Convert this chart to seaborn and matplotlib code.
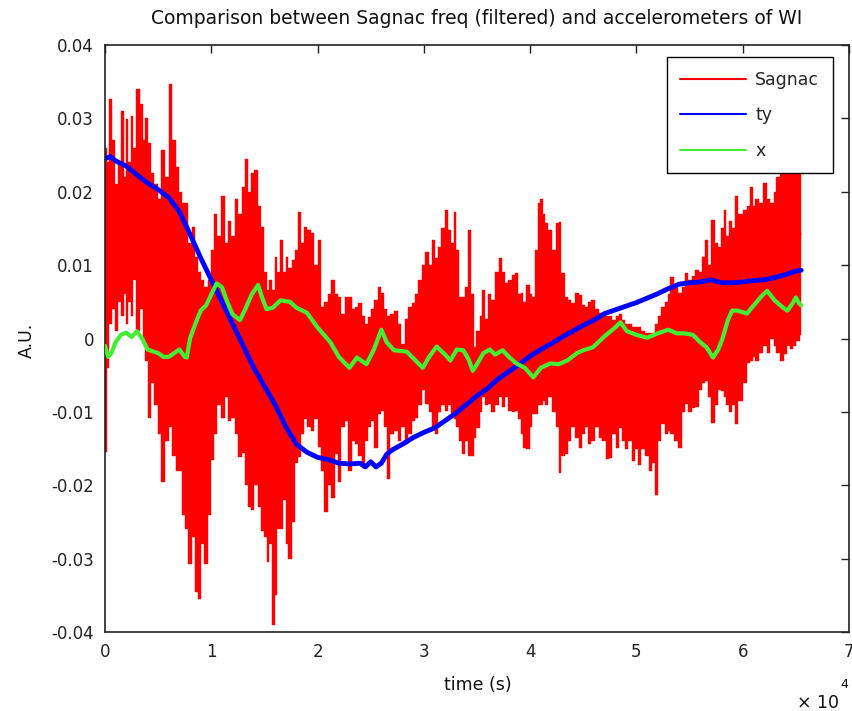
import numpy as np
import pandas as pd
import matplotlib
matplotlib.use("Agg")
import matplotlib.pyplot as plt
import seaborn as sns

# ---------------- data (time in 1e4 s, values in 1e-3 A.U.) ----------------
# Sagnac (filtered) read as max / min envelope of the dense trace
sag_t = [0.00, 0.03, 0.05, 0.08, 0.11, 0.14, 0.16, 0.19, 0.21, 0.23, 0.25, 0.28,
         0.31, 0.34, 0.37, 0.39, 0.42, 0.45, 0.48, 0.51, 0.55, 0.58, 0.62, 0.65,
         0.68, 0.71, 0.74, 0.77, 0.80, 0.83, 0.86, 0.89, 0.92, 0.95, 0.98, 1.01, 1.04, 1.07,
         1.11, 1.14, 1.17, 1.21, 1.24, 1.27, 1.30, 1.33, 1.36, 1.39, 1.42, 1.45,
         1.48, 1.51, 1.53, 1.56, 1.58, 1.61, 1.63, 1.66, 1.69, 1.71, 1.74, 1.77, 1.80, 1.83,
         1.86, 1.89, 1.92, 1.95, 1.98, 2.02, 2.05, 2.08, 2.11, 2.15, 2.18, 2.21,
         2.24, 2.27, 2.30, 2.34, 2.37, 2.40, 2.43, 2.46, 2.48, 2.52, 2.55, 2.58, 2.61,
         2.64, 2.67, 2.70, 2.74, 2.77, 2.80, 2.84, 2.87, 2.90, 2.93, 2.96, 3.00,
         3.03, 3.06, 3.09, 3.12, 3.15, 3.18, 3.21, 3.24, 3.27, 3.29, 3.32, 3.34,
         3.37, 3.40, 3.43, 3.46, 3.48, 3.51, 3.54, 3.56, 3.59, 3.62, 3.65, 3.69, 3.72,
         3.75, 3.78, 3.81, 3.84, 3.87, 3.90, 3.92, 3.95, 3.98, 4.01, 4.03, 4.06,
         4.08, 4.11, 4.13, 4.15, 4.19, 4.22, 4.26, 4.28, 4.31, 4.34, 4.37, 4.40,
         4.44, 4.47, 4.50, 4.53, 4.56, 4.59, 4.63, 4.66, 4.69, 4.73, 4.75, 4.79,
         4.82, 4.85, 4.88, 4.91, 4.94, 4.97, 5.00, 5.03, 5.06, 5.10, 5.13, 5.16,
         5.19, 5.22, 5.25, 5.28, 5.31, 5.33, 5.37, 5.41, 5.44, 5.47, 5.50,
         5.54, 5.57, 5.60, 5.63, 5.66, 5.69, 5.72, 5.75, 5.78, 5.81, 5.83, 5.86, 5.88,
         5.91, 5.94, 5.98, 6.02, 6.06, 6.08, 6.11, 6.13, 6.17, 6.21, 6.24,
         6.28, 6.30, 6.33, 6.37, 6.40, 6.43, 6.46, 6.49, 6.52, 6.55]
sag_hi = [26, 24, 32.6, 27, 21, 24, 31, 22, 29.9, 24, 30.3, 26,
          34, 32, 27, 30, 26.7, 22.6, 21, 19, 25.7, 22, 34.7, 27,
          23.4, 20, 18.5, 18.5, 13, 15.2, 11.1, 9, 8, 7, 8, 12, 17, 14,
          19.4, 13, 16, 14, 19, 17, 20.7, 24.4, 20, 22.6, 23, 18,
          15.2, 9, 6.6, 8, 6.6, 11.1, 9, 13.4, 9, 11.1, 9.6, 10.7, 12, 17.3,
          13, 15.2, 14.8, 14.4, 10, 13.4, 4.3, 5, 6, 8, 6, 5.6,
          3.4, 5.6, 5.6, 4, 4.3, 4.8, 3, 2, 2.9, 4, 5.2, 7, 6.2,
          4, 3, 3.4, 3.8, 2, -0.7, 2.7, 4.3, 4.8, 6, 8, 10,
          11.8, 10, 13.4, 11, 12.5, 15, 17.5, 14.8, 13, 17.3, 12, 5.6,
          5.6, 7, 14.8, 6, -1.2, 1, 3, 6.6, 2.7, 6, 5.2, 9, 11,
          9, 7.5, 8, 8.6, 8.9, 6, 6.2, 5, 7.3, 6, 5.6, 12,
          18.5, 19, 17, 15.7, 14.8, 12, 15.7, 15.9, 8.9, 5.6, 5.2, 4.8,
          6.2, 5.9, 4.5, 4.3, 5, 5.2, 4, 3.5, 3.4, 3, 3, 2.5,
          3, 3.4, 2.5, 2, 2, 1.5, 1.5, 1.5, 1, 0.8, 0.7, 0.7,
          2, 3, 4.3, 5, 6, 8.4, 7, 6.2, 7, 8.9, 8,
          8.5, 9.3, 9, 11.1, 13.4, 10, 16.2, 13, 12.5, 15, 17.5, 14, 16,
          15, 19.4, 17, 17.5, 18, 20.7, 18, 19, 18.5, 21.2, 19,
          18.5, 20, 22, 23, 24, 23, 26, 27, 28, 28]
sag_lo = [-15.5, -4, 2, 4, 1, 5, 3, 6, 2, 5, 3, 8,
          1, 4, 0, -3, -10.8, -6, -9, -13, -19.5, -14, -12, -16,
          -18, -18, -24, -26, -30.8, -27, -34.6, -35.5, -28, -30.8, -24, -16.6, -13, -9,
          -10.8, -8, -11.2, -10.8, -13, -16.2, -15.6, -20, -23, -23.4, -20, -23,
          -26.3, -27, -30.4, -28, -39, -35, -26, -26, -22, -28, -30, -25, -17, -16.2,
          -13, -11, -12, -12.6, -11, -14.8, -18, -23.6, -20, -21.8, -15.8, -19.5,
          -12, -11.2, -18, -14, -14.4, -16, -17.6, -14, -12, -11.2, -14.9, -10.3, -9.9,
          -12, -19.2, -13, -12.6, -14, -12, -14.4, -13, -11.2, -10.8, -9, -7,
          -8.9, -10, -12.2, -13, -10, -9, -9.9, -9, -10.3, -11, -12, -14,
          -15.8, -14, -16, -16, -13.5, -12.2, -10, -8, -9, -8.9, -10, -9, -8,
          -9.4, -8, -9.9, -10, -9.9, -11, -13, -14.9, -15, -12, -10.3, -10.3,
          -9, -9, -8.5, -9, -8, -10, -12, -18.3, -16, -15.8, -14, -12,
          -13.5, -14.9, -13, -12, -14.4, -14, -12, -13.5, -14, -16.4, -16.3, -13,
          -14.9, -12.2, -14, -15, -14, -16.7, -15, -17.2, -15, -16, -18, -17,
          -21.3, -14, -11.7, -13, -12.6, -13, -14, -14.9, -10, -8.9, -10,
          -9.5, -9.4, -7, -6, -5.8, -8, -11.5, -9, -7, -7.1, -8, -9, -10,
          -9, -11.7, -8.5, -6, -3.4, -3, -2.5, -3, -2, -1, -2,
          0, -1, -2, -3, -2.1, -1, -1.4, -1, -0.3, 0.5]

# accelerometer ty
ty_t = [0.00, 0.05, 0.10, 0.20, 0.30, 0.40, 0.50, 0.60, 0.70, 0.80, 0.90, 1.00,
        1.10, 1.20, 1.30, 1.40, 1.50, 1.60, 1.70, 1.80, 1.90, 2.00, 2.10, 2.20,
        2.30, 2.40, 2.45, 2.50, 2.55, 2.60, 2.65, 2.70, 2.80, 2.90, 3.00, 3.10,
        3.20, 3.30, 3.40, 3.50, 3.60, 3.70, 3.80, 3.90, 4.00, 4.10, 4.20, 4.30,
        4.40, 4.50, 4.60, 4.70, 4.80, 4.90, 5.00, 5.10, 5.20, 5.30, 5.40, 5.50,
        5.60, 5.70, 5.80, 5.90, 6.00, 6.10, 6.20, 6.30, 6.40, 6.50, 6.55]
ty_v = [24.5, 24.8, 24.2, 23.5, 22.3, 21.2, 20.3, 19.2, 17.3, 14.2, 11, 8,
        5, 2, -1, -4, -6.5, -9, -12, -14.4, -15.5, -16.2, -16.5, -17,
        -17.1, -17, -17.5, -16.8, -17.5, -17, -15.8, -15.2, -14.4, -13.5, -12.8, -12.2,
        -11.2, -10.2, -9, -7.8, -6.8, -5.5, -4.5, -3.5, -2.4, -1.5, -0.7, 0.2,
        1, 1.8, 2.5, 3.4, 3.9, 4.4, 4.9, 5.5, 6.1, 6.8, 7.4, 7.6,
        7.7, 8, 7.6, 7.6, 7.7, 7.9, 8, 8.3, 8.7, 9.2, 9.3]

# accelerometer x
x_t = [0.00, 0.03, 0.06, 0.10, 0.15, 0.20, 0.25, 0.30, 0.35, 0.40, 0.50, 0.55,
       0.60, 0.65, 0.70, 0.75, 0.77, 0.80, 0.85, 0.90, 0.95, 1.00, 1.05, 1.10,
       1.15, 1.20, 1.27, 1.32, 1.38, 1.44, 1.48, 1.52, 1.58, 1.65, 1.74, 1.80,
       1.90, 2.00, 2.12, 2.20, 2.30, 2.37, 2.46, 2.53, 2.60, 2.65, 2.72, 2.84,
       2.99, 3.05, 3.12, 3.20, 3.25, 3.31, 3.37, 3.42, 3.46, 3.50, 3.56, 3.62,
       3.67, 3.74, 3.80, 3.87, 3.95, 4.03, 4.10, 4.19, 4.27, 4.35, 4.44, 4.50,
       4.59, 4.70, 4.80, 4.85, 4.91, 5.00, 5.10, 5.20, 5.30, 5.38, 5.45, 5.53,
       5.60, 5.66, 5.72, 5.77, 5.81, 5.86, 5.90, 5.95, 6.04, 6.12, 6.18, 6.23,
       6.30, 6.38, 6.42, 6.47, 6.50, 6.53, 6.55]
x_v = [-1, -2.5, -2, -0.5, 0.5, 0.8, 0.2, 1, 0, -1.5, -2, -2.5,
       -2.5, -2, -1.5, -2.5, -2.6, 0, 2, 3.8, 4.5, 6, 7.5, 7,
       5, 3.3, 2.5, 4, 6, 7.3, 5.5, 4, 4.2, 5.2, 5, 4.2,
       3.5, 1.5, -0.5, -2.5, -4, -2.6, -3.5, -1.5, 1.2, -0.5, -1.6, -1.8,
       -4, -2.5, -1.1, -2.2, -3, -1.5, -1.6, -2.8, -4.4, -3.5, -2, -1.5,
       -2.2, -1.6, -2.5, -3.4, -4, -5.3, -4, -3.4, -3.5, -3, -2, -1.6,
       -1.2, 0.3, 1.5, 2.2, 1, 0.5, 0.1, 0.7, 1.2, 0.7, 0.7, 0.5,
       -0.5, -1.2, -2.6, -1.5, 0, 2.5, 3.8, 3.8, 3.4, 4.8, 5.8, 6.5,
       5.2, 4.2, 3.8, 4.8, 5.6, 4.8, 4.5]

x_ticks = [0, 1, 2, 3, 4, 5, 6, 7]
x_ticklabels = ["0", "1", "2", "3", "4", "5", "6", "7"]
y_ticks = [-0.04, -0.03, -0.02, -0.01, 0, 0.01, 0.02, 0.03, 0.04]
y_ticklabels = ["-0.04", "-0.03", "-0.02", "-0.01", "0", "0.01", "0.02", "0.03", "0.04"]

# ---------------- tables ----------------
T_SCALE, V_SCALE = 1e4, 1e-3
sag_df = pd.DataFrame({
    "t": np.concatenate([sag_t, sag_t]) * T_SCALE,
    "v": np.concatenate([sag_hi, sag_lo]) * V_SCALE,
})
ty_df = pd.DataFrame({"t": np.array(ty_t) * T_SCALE, "v": np.array(ty_v) * V_SCALE})
x_df = pd.DataFrame({"t": np.array(x_t) * T_SCALE, "v": np.array(x_v) * V_SCALE})

# ---------------- plot ----------------
sns.set_style("white")
plt.rcParams["font.family"] = ["DejaVu Sans"]
plt.rcParams["axes.unicode_minus"] = False

W, H = 853, 711
fig = plt.figure(figsize=(W / 100, H / 100), dpi=100)
ax = fig.add_axes([105 / W, 1 - 632 / H, 744 / W, 587 / H])

sns.lineplot(data=sag_df, x="t", y="v", ax=ax, color="#ff0000", lw=0.8,
             errorbar=("pi", 100),
             err_kws={"alpha": 1, "linewidth": 0.3, "step": "mid"},
             label="Sagnac", zorder=1)
sns.lineplot(data=ty_df, x="t", y="v", ax=ax, color="#0000ff", lw=3.5,
             label="ty", zorder=2, sort=True)
sns.lineplot(data=x_df, x="t", y="v", ax=ax, color="#44ee33", lw=3.0,
             label="x", zorder=3, sort=True)

ax.set_xlim(0, 7e4)
ax.set_ylim(-0.04, 0.04)
ax.set_xticks(np.array(x_ticks) * T_SCALE)
ax.set_xticklabels(x_ticklabels)
ax.set_yticks(y_ticks)
ax.set_yticklabels(y_ticklabels)
ax.tick_params(direction="in", top=True, right=True, length=6, width=1,
               labelsize=12, pad=8, colors="#222222")
for s in ax.spines.values():
    s.set_linewidth(1.2)
    s.set_color("#222222")
ax.set_xlabel("")
ax.set_ylabel("")

handles, labels = ax.get_legend_handles_labels()
leg = ax.legend(handles, labels, loc="upper right", bbox_to_anchor=(0.9785, 0.9796),
                borderaxespad=0.0,
                frameon=True, fancybox=False, edgecolor="black", framealpha=1,
                handlelength=3.8, labelspacing=1.0, borderpad=0.8,
                handletextpad=0.5, fontsize=12.5)
leg.get_frame().set_linewidth(1.0)
for ln in leg.get_lines():
    ln.set_linewidth(1.5)

fig.text(477 / W, 1 - 18 / H,
         "Comparison between Sagnac freq (filtered) and accelerometers of WI",
         ha="center", va="center", fontsize=13.5, color="#111111")
fig.text(478 / W, 1 - 685 / H, "time (s)", ha="center", va="center",
         fontsize=12.5, color="#111111")
fig.text(27 / W, 1 - 340 / H, "A.U.", ha="center", va="center", rotation=90,
         fontsize=12.5, color="#111111")
fig.text(797 / W, 1 - 708 / H, "\u00d7 10", ha="left", va="baseline",
         fontsize=12.5, color="#111111")
fig.text(840 / W, 1 - 688 / H, "4", ha="left", va="baseline",
         fontsize=9, color="#111111")

fig.savefig("out.png", dpi=100, facecolor="white")
